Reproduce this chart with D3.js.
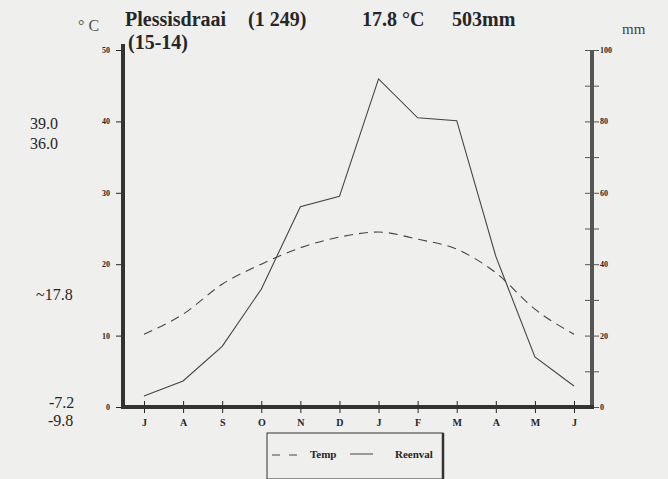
<!DOCTYPE html>
<html>
<head>
<meta charset="utf-8">
<script src="https://cdn.jsdelivr.net/npm/d3@7"></script>
<style>
  body { margin: 0; background: #efefed; }
  svg { display: block; font-family: "Liberation Serif", "DejaVu Serif", serif; }
</style>
</head>
<body>
<svg id="chart" width="668" height="479"></svg>
<script>
// months July..June
var months = ["J", "A", "S", "O", "N", "D", "J", "F", "M", "A", "M", "J"];
// mean monthly temperature, degrees C
var temp = [10.2, 13.0, 17.2, 20.0, 22.3, 23.8, 24.5, 23.5, 22.1, 18.8, 13.7, 10.2];
// monthly rainfall, mm
var rain = [3.1, 7.3, 17.0, 33.0, 56.1, 59.0, 91.9, 81.0, 80.2, 42.2, 14.0, 5.9];
var tempTicks = [0, 10, 20, 30, 40, 50];
var rainTicks = [0, 10, 20, 30, 40, 50, 60, 70, 80, 90, 100];
var sideNotes = [
    { text: "39.0", x: 30, y: 129 },
    { text: "36.0", x: 30, y: 149 },
    { text: "~17.8", x: 36, y: 300 },
    { text: "-7.2", x: 49, y: 408 },
    { text: "-9.8", x: 48, y: 426 }
];

(function () {
    "use strict";

    var svg = d3.select("#chart"),
        ink = "#262626",
        serif = "Liberation Serif",
        left = 123,
        right = 592,
        bottom = 407,
        top = 50;

    var x = d3.scalePoint().domain(d3.range(months.length)).range([144, 574]);
    var yT = d3.scaleLinear().domain([0, 50]).range([bottom, top]);
    var yP = d3.scaleLinear().domain([0, 100]).range([bottom, top]);

    var styleText = function (sel, size) {
        sel.attr("font-size", size).attr("font-weight", "bold")
            .attr("fill", ink).attr("font-family", serif);
    };

    // left temperature axis
    var axL = svg.append("g")
        .attr("transform", "translate(" + left + ",0)")
        .call(d3.axisLeft(yT).tickValues(tempTicks).tickSize(7).tickPadding(6));
    axL.select(".domain").remove();
    axL.selectAll("line").attr("stroke", ink).attr("x2", 0).attr("x1", -7);
    styleText(axL.selectAll("text"), 8);

    // right rainfall axis
    var axR = svg.append("g")
        .attr("transform", "translate(" + right + ",0)")
        .call(d3.axisRight(yP).tickValues(rainTicks).tickSize(7).tickPadding(1)
            .tickFormat(function (d) { return d % 20 === 0 ? d : ""; }));
    axR.select(".domain").remove();
    axR.selectAll("line").attr("stroke", "#555").attr("x1", -7).attr("x2", 7);
    styleText(axR.selectAll("text"), 8);

    // month axis
    var axB = svg.append("g")
        .attr("transform", "translate(0," + bottom + ")")
        .call(d3.axisBottom(x).tickSize(6).tickPadding(6)
            .tickFormat(function (i) { return months[i]; }));
    axB.select(".domain").remove();
    axB.selectAll("line").attr("stroke", ink).attr("y1", -6).attr("y2", 6);
    styleText(axB.selectAll("text"), 10);

    // thick frame lines
    svg.append("line").attr("x1", left).attr("x2", left).attr("y1", 44).attr("y2", bottom + 2)
        .attr("stroke", "#333").attr("stroke-width", 4);
    svg.append("line").attr("x1", right).attr("x2", right).attr("y1", top).attr("y2", bottom + 2)
        .attr("stroke", "#555").attr("stroke-width", 4);
    svg.append("line").attr("x1", left - 2).attr("x2", right + 2).attr("y1", bottom).attr("y2", bottom)
        .attr("stroke", "#333").attr("stroke-width", 4);

    // temperature curve
    var tLine = d3.line()
        .x(function (d, i) { return x(i); })
        .y(function (d) { return yT(d); })
        .curve(d3.curveMonotoneX);
    svg.append("path").datum(temp).attr("d", tLine)
        .attr("fill", "none").attr("stroke", "#444").attr("stroke-width", 1.1)
        .attr("stroke-dasharray", "9,6");

    // rainfall line
    var pLine = d3.line()
        .x(function (d, i) { return x(i); })
        .y(function (d) { return yP(d); });
    svg.append("path").datum(rain).attr("d", pLine)
        .attr("fill", "none").attr("stroke", "#444").attr("stroke-width", 1.1);

    // header texts
    svg.append("text").attr("x", 78).attr("y", 31).attr("font-size", 16)
        .attr("fill", "#555").text("\u00b0 C");
    var heads = [
        { t: "Plessisdraai", x: 125, y: 26 },
        { t: "(1 249)", x: 248, y: 26 },
        { t: "17.8 \u00b0C", x: 362, y: 26 },
        { t: "503mm", x: 452, y: 26 },
        { t: "(15-14)", x: 128, y: 49 }
    ];
    heads.forEach(function (h) {
        svg.append("text").attr("x", h.x).attr("y", h.y).attr("font-size", 20)
            .attr("font-weight", "bold").attr("fill", ink).text(h.t);
    });
    svg.append("text").attr("x", 622).attr("y", 34).attr("font-size", 15)
        .attr("fill", "#444").text("mm");

    // extreme values at the left
    svg.selectAll("text.note").data(sideNotes).enter().append("text")
        .attr("class", "note")
        .attr("x", function (d) { return d.x; })
        .attr("y", function (d) { return d.y; })
        .attr("font-size", 16).attr("fill", ink)
        .text(function (d) { return d.text; });

    // legend
    var lg = svg.append("g").attr("transform", "translate(267,433)");
    lg.append("rect").attr("width", 176).attr("height", 46)
        .attr("fill", "none").attr("stroke", "#333").attr("stroke-width", 1);
    lg.append("line").attr("x1", 176).attr("x2", 176).attr("y1", 0).attr("y2", 46)
        .attr("stroke", "#333").attr("stroke-width", 2.5);
    lg.append("line").attr("x1", 5).attr("x2", 34).attr("y1", 22).attr("y2", 22)
        .attr("stroke", "#444").attr("stroke-dasharray", "8,9");
    lg.append("text").attr("x", 43).attr("y", 25).attr("font-size", 11)
        .attr("font-weight", "bold").attr("fill", ink).text("Temp");
    lg.append("line").attr("x1", 83).attr("x2", 106).attr("y1", 21).attr("y2", 21)
        .attr("stroke", "#444");
    lg.append("text").attr("x", 128).attr("y", 25).attr("font-size", 11)
        .attr("font-weight", "bold").attr("fill", ink).text("Reenval");
}());
</script>
</body>
</html>
